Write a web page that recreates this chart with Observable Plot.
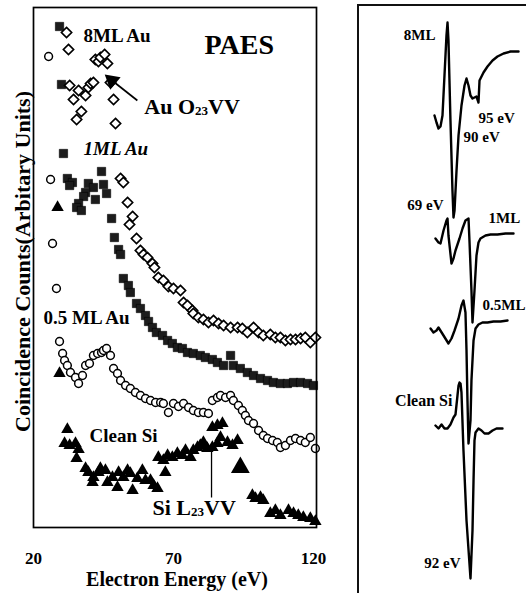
<!DOCTYPE html>
<html>
<head>
<meta charset="utf-8">
<script src="https://cdn.jsdelivr.net/npm/d3@7"></script>
<script src="https://cdn.jsdelivr.net/npm/@observablehq/plot@0.6"></script>
<style>
  html, body { margin: 0; padding: 0; background: #fff; }
  #wrap { position: relative; width: 526px; height: 597px; overflow: hidden; background: #fff; }
  #left { position: absolute; left: 0; top: 0; }
  #right { position: absolute; left: 340px; top: 0; }
  #rframe { position: absolute; left: 357px; top: 4px; width: 175px; height: 589px;
            border-left: 2px solid #111; border-top: 2px solid #111; box-sizing: border-box; }
</style>
</head>
<body>
<div id="wrap">
  <div id="left"></div>
  <div id="rframe"></div>
  <div id="right"></div>
</div>
<script>
// ---------- Left panel: PAES coincidence spectra [energy eV, counts arb.] ----------
const xTicks = [20, 70, 120];

const au8ML = [
  [31.8,495],[32.5,478],[32.9,442],[34.3,428],[35.4,408],[36.1,437],[37.1,416],[38.6,432],
  [39.6,440],[40.4,444],[41.4,445],[42.1,468],[43.2,466],[43.9,470],[45.4,473],[46.4,464],
  [47.5,445],[48.6,428],[49.3,404],[51.1,349],[52.1,345],[53.6,325],[54.3,303],[55.4,311],
  [56.8,289],[58.2,277],[59.3,273],[60.7,270],[62.5,264],[63.2,260],[64.6,250],[66.4,247],
  [68.2,241],[70.0,239],[72.5,237],[73.6,225],[75.0,222],[76.8,217],[77.1,214],[78.9,210],
  [80.7,208],[82.5,205],[84.3,207],[86.1,204],[87.9,202],[90.4,200],[92.9,200],[94.6,199],
  [96.4,195],[98.6,200],[100.4,195],[102.1,192],[104.6,193],[106.4,190],[108.2,190],[110.0,187],
  [111.8,188],[113.6,188],[115.4,189],[117.1,190],[118.9,185],[120.7,190]
];

const au1ML = [
  [29.3,501],[30.0,443],[30.7,374],[32.1,349],[33.9,345],[32.9,342],[44.3,356],[39.6,344],
  [41.4,340],[45.0,343],[46.1,334],[38.6,335],[37.9,331],[42.1,328],[36.1,324],[35.4,320],
  [37.1,317],[47.9,309],[48.9,290],[50.4,278],[51.1,273],[52.1,249],[53.9,242],[54.6,235],
  [56.8,224],[58.2,219],[60.0,212],[61.1,206],[62.5,200],[63.9,195],[66.1,192],[67.9,187],
  [69.6,184],[71.4,180],[73.2,179],[75.0,175],[77.1,174],[79.6,172],[81.4,170],[83.9,168],
  [85.7,165],[87.9,162],[90.4,172],[91.4,162],[93.9,159],[96.4,155],[98.6,152],[101.1,149],
  [103.6,147],[105.7,145],[108.2,144],[110.7,144],[112.9,145],[115.4,145],[117.9,144],[120.0,142]
];

const au05ML = [
  [25.4,471],[26.1,348],[26.8,284],[28.2,239],[29.3,186],[30.4,174],[31.1,167],[32.1,162],
  [33.2,155],[35.0,150],[36.1,144],[37.5,152],[38.6,162],[40.0,164],[41.4,172],[42.9,174],
  [44.3,175],[45.0,177],[46.1,179],[47.5,172],[48.6,159],[50.0,154],[51.1,147],[52.9,142],
  [54.6,139],[56.4,135],[58.2,132],[60.0,129],[61.8,127],[63.6,125],[65.4,125],[66.4,124],
  [68.2,115],[70.0,124],[71.8,121],[73.6,124],[75.4,120],[77.1,117],[78.9,115],[80.7,115],
  [82.5,114],[83.9,127],[85.7,130],[86.8,132],[88.6,130],[90.4,132],[91.4,127],[93.2,122],
  [94.6,117],[95.7,112],[96.8,107],[98.6,104],[100.4,97],[102.1,92],[103.6,89],[105.4,87],
  [107.1,85],[108.2,80],[110.0,82],[111.8,87],[113.6,89],[115.4,87],[117.1,85],[118.9,90],[120.7,79]
];

const cleanSi = [
  [28.6,320],[29.3,154],[32.1,98],[31.1,84],[32.9,82],[35.0,84],[36.1,78],[35.4,69],
  [38.6,59],[39.6,55],[41.4,50],[41.1,45],[43.2,55],[43.9,59],[45.7,57],[46.4,45],
  [48.2,50],[50.0,40],[50.4,55],[52.1,50],[53.6,57],[54.6,54],[55.4,37],[57.1,49],
  [58.9,57],[60.0,47],[61.8,47],[62.9,42],[64.3,39],[64.6,70],[66.4,67],[67.1,55],
  [67.9,72],[69.6,70],[71.4,74],[73.2,72],[74.3,77],[76.1,70],[77.1,77],[78.6,80],
  [79.6,82],[80.7,85],[82.1,79],[83.9,80],[85.7,84],[86.8,90],[83.9,100],[85.7,102],
  [87.5,104],[89.3,85],[91.1,82],[92.9,87],[98.2,32],[99.3,29],[101.1,30],[102.1,27],
  [104.6,14],[106.4,17],[108.2,12],[111.1,17],[112.9,14],[114.6,12],[116.4,10],[118.9,9],[120.7,6]
];
const cleanSiOutlier = [[93.9,60]];

const leftLabels = [
  {text: "8ML Au",    e: 37.9, c: 492, size: 19, style: "normal"},
  {text: "PAES",      e: 81.1, c: 482, size: 28, style: "normal"},
  {text: "Au O23VV",  e: 59.6, c: 421, size: 22, style: "normal"},
  {text: "1ML Au",    e: 37.9, c: 379, size: 19, style: "italic"},
  {text: "0.5 ML Au", e: 23.6, c: 210, size: 19, style: "normal"},
  {text: "Clean Si",  e: 40.0, c: 92,  size: 19, style: "normal"},
  {text: "Si L23VV",  e: 62.5, c: 20,  size: 22, style: "normal"}
];
const auArrow = [{e1: 57.1, c1: 427, e2: 47.6, c2: 448}];
const auArrowHead = [{e: 48.0, c: 447}];
const siPointer = [{e: 83.6, c1: 80, c2: 30}];

// ---------- Right panel: derivative spectra dN/dE [energy eV, offset signal] ----------
const d8ML = [
  [43.3,482],[46.0,475],[48.7,469],[51.4,471],[54.1,482],[56.8,522],[59.5,562],[60.9,575],
  [62.2,557],[64.9,477],[67.6,407],[69.0,380],[70.4,387],[73.1,427],[75.8,462],[79.8,492],
  [83.9,512],[86.6,519],[89.3,512],[92.0,502],[94.7,499],[97.4,500],[100.1,501],[102.8,495],
  [104.2,517],[109.6,525],[115.0,531],[121.8,537],[128.5,541],[136.7,544],[146.1,546],[157.0,546]
];
const d1ML = [
  [44.6,359],[48.7,355],[51.4,354],[55.5,367],[59.5,377],[60.9,379],[62.2,362],[66.3,334],
  [69.0,339],[71.7,347],[77.1,359],[81.2,369],[85.2,377],[89.3,379],[90.6,357],[93.3,307],
  [94.7,275],[97.4,307],[100.1,342],[102.8,355],[105.5,359],[112.3,362],[119.1,363],[128.5,363],
  [139.4,364],[150.2,364]
];
const d05ML = [
  [37.9,269],[41.9,265],[46.0,267],[48.7,270],[55.5,262],[62.2,254],[66.3,259],[70.4,267],
  [75.8,279],[79.8,292],[82.5,297],[85.2,285],[86.6,247],[87.9,197],[89.3,154],[92.0,177],
  [93.3,217],[96.1,257],[98.8,269],[102.8,273],[108.2,275],[115.0,275],[123.1,276],[132.6,276],[142.1,277]
];
const dCleanSi = [
  [44.6,172],[48.7,169],[52.8,173],[56.8,169],[60.9,169],[64.9,173],[69.0,180],[71.7,183],
  [74.4,202],[75.8,212],[77.1,215],[78.5,214],[79.8,205],[82.5,147],[86.6,77],[92.0,19],
  [94.7,67],[96.1,117],[97.4,157],[98.8,165],[102.8,169],[106.9,167],[111.0,164],[116.4,164],
  [121.8,167],[127.2,169],[135.3,169]
];
const rightLabels = [
  {text: "8ML",      e: 44.6,  v: 562, anchor: "end",   size: 15},
  {text: "95 eV",    e: 102.8, v: 479, anchor: "start", size: 15},
  {text: "90 eV",    e: 82.5,  v: 460, anchor: "start", size: 15},
  {text: "69 eV",    e: 55.5,  v: 392, anchor: "end",   size: 15},
  {text: "1ML",      e: 116.4, v: 379, anchor: "start", size: 15},
  {text: "0.5ML",    e: 108.2, v: 292, anchor: "start", size: 15},
  {text: "Clean Si", e: 67.6,  v: 197, anchor: "end",   size: 16},
  {text: "92 eV",    e: 78.5,  v: 34,  anchor: "end",   size: 15}
];

const FONT = "'Liberation Serif', 'Times New Roman', serif";
const X = d => d[0], Y = d => d[1];

const left = Plot.plot({
  width: 340, height: 597,
  marginLeft: 33, marginRight: 24, marginTop: 7, marginBottom: 70,
  style: {fontFamily: FONT, background: "#fff", color: "#000"},
  x: {domain: [20, 121.1]},
  y: {domain: [0, 520], axis: null},
  marks: [
    Plot.axisX({ticks: xTicks, tickSize: 0, tickPadding: 24, fontSize: 17, fontWeight: "bold", label: null, tickFormat: d => String(d)}),
    Plot.dot(au1ML, {x: X, y: Y, symbol: "square", r: 4.7, fill: "#1c1c1c", stroke: "#000", strokeWidth: 0.6}),
    Plot.dot(au8ML, {x: X, y: Y, symbol: "diamond2", r: 4.6, fill: "#fff", stroke: "#000", strokeWidth: 1.7}),
    Plot.dot(au05ML, {x: X, y: Y, symbol: "circle", r: 3.9, fill: "#fff", stroke: "#000", strokeWidth: 1.5}),
    Plot.dot(cleanSi, {x: X, y: Y, symbol: "triangle", r: 4.6, fill: "#000"}),
    Plot.dot(cleanSiOutlier, {x: X, y: Y, symbol: "triangle", r: 7, fill: "#000"}),
    Plot.link(siPointer, {x1: "e", y1: "c1", x2: "e", y2: "c2", stroke: "#000", strokeWidth: 1.3}),
    Plot.link(auArrow, {x1: "e1", y1: "c1", x2: "e2", y2: "c2", stroke: "#000", strokeWidth: 1.7}),
    Plot.dot(auArrowHead, {x: "e", y: "c", symbol: "triangle", r: 6, fill: "#000", rotate: -50}),
    Plot.text(leftLabels, {x: "e", y: "c", text: "text", fontSize: d => d.size, fontStyle: d => d.style,
      fontWeight: "bold", textAnchor: "start", lineAnchor: "middle", fill: "#000"}),
    Plot.text(["Coincidence Counts(Arbitary Units)"], {frameAnchor: "left", dx: -11, dy: -6, rotate: -90,
      fontSize: 22, fontWeight: "bold", textAnchor: "middle", lineAnchor: "middle", fill: "#000"}),
    Plot.text(["Electron Energy (eV)"], {frameAnchor: "bottom", dx: 2, dy: 52,
      fontSize: 20, fontWeight: "bold", textAnchor: "middle", lineAnchor: "middle", fill: "#000"}),
    Plot.frame({stroke: "#000", strokeWidth: 1.7})
  ]
});

d3.select(left).selectAll("text").each(function () {
  const t = this.textContent;
  const lab = leftLabels.find(l => l.text === t);
  if (lab) {
    this.setAttribute("font-size", lab.size);
    this.setAttribute("font-style", lab.style);
    this.style.fontSize = lab.size + "px";
    this.style.fontStyle = lab.style;
  }
  const m = t.match(/^(.*O|.*L)23(VV)$/);
  if (m) {
    const sz = lab ? lab.size : 22;
    while (this.firstChild) this.removeChild(this.firstChild);
    const ns = "http://www.w3.org/2000/svg";
    const a = document.createElementNS(ns, "tspan"); a.textContent = m[1];
    const b = document.createElementNS(ns, "tspan"); b.textContent = "23";
    b.setAttribute("font-size", Math.round(sz * 0.6)); b.style.fontSize = Math.round(sz * 0.6) + "px";
    b.setAttribute("dy", "1");
    const c = document.createElementNS(ns, "tspan"); c.textContent = m[2]; c.setAttribute("dy", "-1");
    this.append(a, b, c);
  }
});
document.getElementById("left").append(left);

const right = Plot.plot({
  width: 186, height: 597, margin: 0,
  style: {fontFamily: FONT, background: "transparent", color: "#000"},
  x: {domain: [69, 92], range: [113, 130], axis: null},
  y: {domain: [0, 597], range: [597, 0], axis: null},
  marks: [
    Plot.line(d8ML, {x: X, y: Y, stroke: "#000", strokeWidth: 2.4, strokeLinejoin: "round"}),
    Plot.line(d1ML, {x: X, y: Y, stroke: "#000", strokeWidth: 2.4, strokeLinejoin: "round"}),
    Plot.line(d05ML, {x: X, y: Y, stroke: "#000", strokeWidth: 2.4, strokeLinejoin: "round"}),
    Plot.line(dCleanSi, {x: X, y: Y, stroke: "#000", strokeWidth: 2.4, strokeLinejoin: "round"}),
    Plot.text(rightLabels, {x: "e", y: "v", text: "text", textAnchor: d => d.anchor, lineAnchor: "middle",
      fontSize: 15, fontWeight: "bold", fill: "#000"})
  ]
});
d3.select(right).selectAll("text").each(function () {
  const lab = rightLabels.find(l => l.text === this.textContent);
  if (lab) {
    this.setAttribute("text-anchor", lab.anchor);
    this.setAttribute("font-size", lab.size);
    this.style.fontSize = lab.size + "px";
  }
});
document.getElementById("right").append(right);
</script>
</body>
</html>
